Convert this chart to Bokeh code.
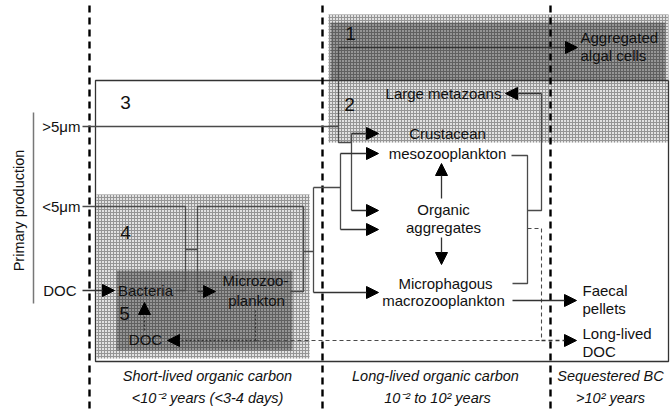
from bokeh.plotting import figure
from bokeh.models import Range1d, ColumnDataSource, Arrow, NormalHead, Label
from bokeh.core.properties import value
from bokeh.embed import file_html
from bokeh.resources import INLINE

FONT = "Liberation Sans"

# ---------------- data ----------------
zone_bounds_x = [89, 322, 550]
zone_title = ["Short-lived organic carbon", "Long-lived  organic carbon", "Sequestered BC"]
zone_span = ["<10\u207b\u00b2 years (<3-4 days)", "10\u207b\u00b2 to 10\u00b2 years", ">10\u00b2 years"]
zone_label_x = [207, 437, 610]

box_numbers = ["1", "2", "3", "4", "5"]
box_number_x = [350, 349, 125, 125, 124]
box_number_y = [33, 104, 102, 232, 313]

node_center_labels = ["Large metazoans", "Crustacean", "mesozooplankton", "Organic", "aggregates",
                      "Microphagous", "macrozooplankton", "Bacteria", "Microzoo-", "plankton", "DOC"]
node_center_x = [443, 447, 447, 443, 443, 445, 443, 145, 255, 256, 145]
node_center_y = [93, 133, 153, 209, 227, 283, 300, 290, 280, 300, 339]

node_left_labels = ["Aggregated", "algal cells", "Faecal", "pellets", "Long-lived", "DOC"]
node_left_x = [580, 580, 582, 582, 582, 582]
node_left_y = [37, 55, 290, 308, 333, 351]

source_labels = [">5\u03bcm", "<5\u03bcm", "DOC"]
source_x = [80, 80, 76]
source_y = [126, 206, 290]

# shaded boxes: left, right, top, bottom
light_boxes = dict(l=[328, 96], r=[668, 309], t=[14, 194], b=[142, 358])
dark_boxes = dict(l=[330, 116], r=[665, 292], t=[22, 270], b=[80, 350])

# connector polylines
solid_paths = [
    [(82, 126), (338, 126)],
    [(338, 47), (338, 142), (351, 142)],
    [(351, 133), (351, 210)],
    [(82, 206), (185, 206), (185, 290), (175, 290)],
    [(185, 249), (197, 249)],
    [(303, 206), (197, 206), (197, 291)],
    [(290, 291), (303, 291), (303, 206)],
    [(303, 251), (313, 251)],
    [(313, 187), (313, 292)],
    [(313, 187), (340, 187)],
    [(340, 153), (340, 229)],
    [(511, 155), (527, 155), (527, 283), (512, 283)],
    [(527, 210), (541, 210), (541, 93)],
]
dashed_paths = [
    [(527, 228), (541, 228), (541, 340)],
    [(255, 340), (541, 340)],
]
dotted_paths = [
    [(255, 310), (255, 340)],
]
solid_arrows = dict(
    x0=[338, 351, 351, 197, 313, 340, 340, 82, 441, 441, 541, 512],
    y0=[47, 133, 210, 291, 292, 153, 229, 290, 198, 237, 93, 300],
    x1=[577, 378, 378, 215, 378, 378, 378, 114, 441, 441, 505, 576],
    y1=[47, 133, 210, 291, 292, 153, 229, 290, 163, 264, 93, 300],
)
dashed_arrows = dict(x0=[541], y0=[340], x1=[576], y1=[340])
dotted_arrows = dict(x0=[255, 144], y0=[340, 330], x1=[167, 144], y1=[340, 302])

# ---------------- figure ----------------
p = figure(width=670, height=409, x_range=Range1d(0, 670), y_range=Range1d(409, 0),
           output_backend="svg", toolbar_location=None, min_border=0,
           x_axis_type=None, y_axis_type=None)
p.grid.visible = False
p.outline_line_color = None
p.background_fill_color = "white"
p.border_fill_color = "white"

# box 3 (white)
p.quad(left=[95], right=[668], top=[80], bottom=[361], fill_color="white", line_color=None)

# stippled regions
p.quad(left=light_boxes["l"], right=light_boxes["r"], top=light_boxes["t"], bottom=light_boxes["b"],
       fill_color="#e2e2e2", line_color=None,
       hatch_pattern="cross", hatch_scale=3, hatch_color="#959595", hatch_weight=1)
p.quad(left=dark_boxes["l"], right=dark_boxes["r"], top=dark_boxes["t"], bottom=dark_boxes["b"],
       fill_color="#959595", line_color=None,
       hatch_pattern="cross", hatch_scale=3, hatch_color="#606060", hatch_weight=1)

# box 3 outline
p.line([668, 95, 95, 668, 668], [80, 80, 361, 361, 80], line_color="#333333", line_width=1.3)

# zone separators
for x in zone_bounds_x:
    p.line([x, x], [5, 409], line_color="black", line_width=2.4, line_dash="7 5")

# primary production bracket
p.line([33, 33], [112, 303], line_color="#777777", line_width=1.5)

# connectors
for path in solid_paths:
    p.line([a for a, b in path], [b for a, b in path], line_color="#4a4a4a", line_width=1.3)
for path in dashed_paths:
    p.line([a for a, b in path], [b for a, b in path], line_color="#4a4a4a", line_width=1.1, line_dash="4 3")
for path in dotted_paths:
    p.line([a for a, b in path], [b for a, b in path], line_color="#333333", line_width=1.1, line_dash="2 2")

def add_arrows(d, dash):
    src = ColumnDataSource(dict(x0=d["x0"], y0=d["y0"], x1=d["x1"], y1=d["y1"]))
    p.add_layout(Arrow(end=NormalHead(size=12, fill_color="black", line_color="black", line_width=1),
                       x_start="x0", y_start="y0", x_end="x1", y_end="y1", source=src,
                       line_color="#333333", line_width=1.3, line_dash=dash))

add_arrows(solid_arrows, "solid")
add_arrows(dashed_arrows, "4 3")
add_arrows(dotted_arrows, "2 2")

# text
txt = dict(text_font=value(FONT), text_font_size="15px", text_color="#111111")
p.text(x=node_center_x, y=node_center_y, text=node_center_labels,
       text_align="center", text_baseline="middle", **txt)
p.text(x=node_left_x, y=node_left_y, text=node_left_labels,
       text_align="left", text_baseline="middle", **txt)
p.text(x=source_x, y=source_y, text=source_labels,
       text_align="right", text_baseline="middle", **txt)
p.text(x=box_number_x, y=box_number_y, text=box_numbers,
       text_align="center", text_baseline="middle",
       text_font=value(FONT), text_font_size="19px", text_color="#111111")
itx = dict(text_font=value(FONT), text_font_size="14.5px", text_color="#111111",
           text_font_style="italic", text_align="center", text_baseline="middle")
p.text(x=zone_label_x, y=[375] * 3, text=zone_title, **itx)
p.text(x=zone_label_x, y=[397] * 3, text=zone_span, **itx)

p.add_layout(Label(x=18, y=210, text="Primary production", angle=90, angle_units="deg",
                   text_align="center", text_baseline="middle",
                   text_font=FONT, text_font_size="14.5px", text_color="#111111"))

open("out.html", "w").write(file_html(p, INLINE))
